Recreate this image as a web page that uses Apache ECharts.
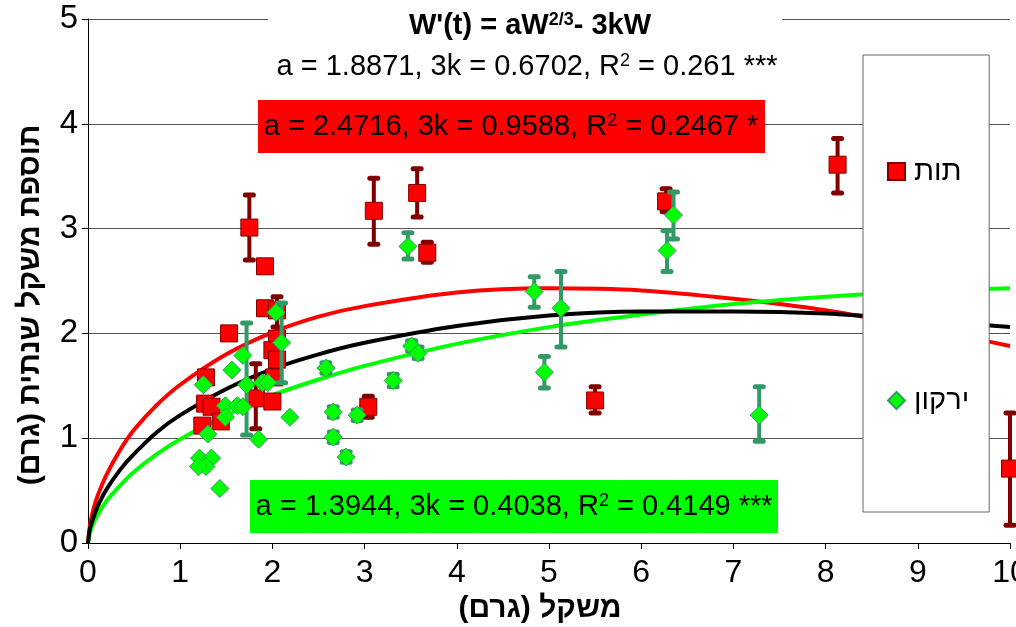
<!DOCTYPE html>
<html><head><meta charset="utf-8">
<script src="https://cdn.jsdelivr.net/npm/echarts@6/dist/echarts.min.js"></script>
<style>html,body{margin:0;padding:0;background:#fff}#c{width:1016px;height:627px}</style>
</head><body><div id="c"></div>
<script>
// ---- data ----
const xTickLabels = ['0','1','2','3','4','5','6','7','8','9','10'];
const yTickLabels = ['0','1','2','3','4','5'];

// תות (red squares)
const redX    = [1.75,1.92,1.53,1.92,2.05,2.05,2.00,2.05,2.02,1.28,1.27,1.34,1.24,1.44,1.82,2.00,3.10,3.57,3.68,3.04,6.27,5.50,8.13,10.0];
const redY    = [3.01,2.64,2.00,2.24,2.22,1.95,1.84,1.75,1.58,1.58,1.33,1.30,1.12,1.16,1.38,1.35,3.17,3.34,2.77,1.30,3.26,1.36,3.61,0.71];
const redLow  = [2.70,null,null,null,2.06,null,null,null,null,null,null,null,null,null,1.09,null,2.85,3.11,2.68,1.20,3.16,1.24,3.34,0.17];
const redHigh = [3.32,null,null,null,2.35,null,null,null,null,null,null,null,null,null,1.71,null,3.48,3.57,2.87,1.40,3.38,1.49,3.86,1.24];

// ירקון (green diamonds)
const greenX    = [1.25,1.56,1.68,1.72,1.89,1.95,2.04,2.10,1.49,1.62,1.68,1.49,1.30,1.85,1.21,1.34,1.28,1.20,1.43,2.19,2.66,2.66,2.58,2.80,2.92,3.31,3.51,3.58,3.47,4.84,5.13,4.95,6.35,6.28,7.28];
const greenY    = [1.51,1.65,1.79,1.51,1.53,1.53,2.20,1.91,1.31,1.31,1.30,1.20,1.04,0.99,0.81,0.81,0.73,0.73,0.52,1.20,1.25,1.01,1.67,0.82,1.22,1.55,1.88,1.81,2.83,2.40,2.24,1.63,3.13,2.79,1.22];
const greenLow  = [null,null,null,1.03,null,null,null,1.53,null,null,null,null,null,null,null,null,null,null,null,null,1.20,0.96,1.62,0.77,1.17,1.49,1.83,1.76,2.71,2.25,1.87,1.48,2.90,2.59,0.97];
const greenHigh = [null,null,null,2.10,null,null,null,2.29,null,null,null,null,null,null,null,null,null,null,null,null,1.30,1.06,1.72,0.87,1.27,1.61,1.93,1.87,2.96,2.54,2.59,1.78,3.35,2.98,1.49];

// fitted curves
const curveX      = [0,0.02,0.05,0.1,0.2,0.35,0.5,0.75,1,1.5,2,2.5,3,4,5,6,7,8,9,10];
const blackCurveY = [0,0.13,0.22,0.34,0.51,0.70,0.85,1.06,1.22,1.47,1.66,1.80,1.91,2.07,2.17,2.21,2.21,2.19,2.13,2.06];
const redCurveY   = [0,0.16,0.29,0.44,0.65,0.89,1.08,1.32,1.51,1.80,2.01,2.16,2.26,2.39,2.43,2.41,2.33,2.22,2.06,1.88];
const greenCurveY = [0,0.09,0.17,0.26,0.40,0.55,0.68,0.85,0.99,1.22,1.41,1.56,1.69,1.90,2.06,2.18,2.28,2.35,2.40,2.43];

const seriesNames = ['תות','ירקון'];
const titleParts = ["W'(t) = aW", '2/3', '- 3kW'];
const fitAll = ['a = 1.8871, 3k = 0.6702, R', '2', ' = 0.261 ***'];
const fitRed = ['a = 2.4716, 3k = 0.9588, R', '2', ' = 0.2467 *'];
const fitGreen = ['a = 1.3944, 3k = 0.4038, R', '2', ' = 0.4149 ***'];
const xName = '\u200Fמשקל (גרם)\u200F';
const yName = '\u200Fתוספת משקל שנתית (גרם)\u200F';

// ---- build ----
const FONT = "'Liberation Sans', Arial, 'DejaVu Sans', sans-serif";
const zip = (xs, ys) => xs.map((x, i) => [x, ys[i]]);
const errData = (xs, lo, hi) => xs.map((x, i) => [x, lo[i], hi[i]]).filter(d => d[1] != null);

function errRender(color) {
  return function (params, api) {
    const x = api.value(0), lo = api.value(1), hi = api.value(2);
    const a = api.coord([x, lo]), b = api.coord([x, hi]);
    const cap = 4;
    const st = { stroke: color, lineWidth: 4, lineCap: 'round' };
    const sc = { stroke: color, lineWidth: 5, lineCap: 'round' };
    return { type: 'group', children: [
      { type: 'line', shape: { x1: a[0], y1: a[1], x2: b[0], y2: b[1] }, style: st },
      { type: 'line', shape: { x1: a[0] - cap, y1: a[1], x2: a[0] + cap, y2: a[1] }, style: sc },
      { type: 'line', shape: { x1: b[0] - cap, y1: b[1], x2: b[0] + cap, y2: b[1] }, style: sc }
    ]};
  };
}

function richLine(parts, size, weight, supSize) {
  return {
    textAlign: 'center', textVerticalAlign: 'middle',
    text: '{n|' + parts[0] + '}{s|' + parts[1] + '}{n|' + parts[2] + '}',
    rich: {
      n: { fontSize: size, fontWeight: weight, fontFamily: FONT, fill: '#000' },
      s: { fontSize: supSize, fontWeight: weight, fontFamily: FONT, fill: '#000', verticalAlign: 'top' }
    }
  };
}

const chart = echarts.init(document.getElementById('c'), null, { renderer: 'canvas' });
const option = {
  animation: false,
  backgroundColor: '#fff',
  grid: { left: 88, top: 19, right: 6, bottom: 84, show: false, containLabel: false, outerBoundsMode: 'none' },
  legend: {
    data: seriesNames,
    orient: 'vertical',
    left: 863, top: 55,
    padding: [102, 20, 97, 24],
    itemGap: 200,
    itemWidth: 17, itemHeight: 17,
    backgroundColor: '#fff', borderColor: '#666', borderWidth: 1,
    zlevel: 1, z: 200,
    textStyle: { fontSize: 29, fontFamily: FONT, color: '#000', padding: [0, 0, 0, 4] }
  },
  xAxis: {
    type: 'value', min: 0, max: 10, interval: 1,
    name: xName, nameLocation: 'middle', nameGap: 51,
    nameTextStyle: { fontSize: 30, fontWeight: 'bold', fontFamily: FONT, color: '#000', padding: [0, 18, 0, 0] },
    axisLine: { lineStyle: { color: '#000', width: 1 } },
    axisTick: { show: true, length: 6, lineStyle: { color: '#000' } },
    axisLabel: { fontSize: 32, color: '#000', margin: 14, fontFamily: "'Liberation Sans Narrow', 'Liberation Sans', Arial, sans-serif",
      formatter: (v) => xTickLabels[Math.round(v)] },
    splitLine: { show: false }
  },
  yAxis: {
    type: 'value', min: 0, max: 5, interval: 1,
    name: yName, nameLocation: 'middle', nameGap: 42, nameRotate: 90,
    nameTextStyle: { fontSize: 30, fontWeight: 'bold', fontFamily: FONT, color: '#000', padding: [0, 48, 0, 0] },
    axisLine: { show: true, lineStyle: { color: '#000', width: 1 } },
    axisTick: { show: true, length: 6, lineStyle: { color: '#000' } },
    axisLabel: { fontSize: 33, color: '#000', margin: 10, fontFamily: FONT,
      formatter: (v) => yTickLabels[Math.round(v)] },
    splitLine: { show: true, lineStyle: { color: '#555', width: 1 } }
  },
  series: [
    { type: 'line', data: zip(curveX, redCurveY), showSymbol: false, smooth: 0.3, lineStyle: { color: '#ff0000', width: 4 }, z: 2, silent: true },
    { type: 'line', data: zip(curveX, greenCurveY), showSymbol: false, smooth: 0.3, lineStyle: { color: '#00ff00', width: 4 }, z: 2, silent: true },
    { type: 'line', data: zip(curveX, blackCurveY), showSymbol: false, smooth: 0.3, lineStyle: { color: '#000000', width: 4 }, z: 2, silent: true },
    { type: 'custom', renderItem: errRender('#800000'), data: errData(redX, redLow, redHigh), z: 3, silent: true },
    { name: seriesNames[0], type: 'scatter', data: zip(redX, redY), symbol: 'rect', symbolSize: 17,
      itemStyle: { color: '#ff0000', borderColor: '#800000', borderWidth: 1, opacity: 1 }, z: 4 },
    { type: 'custom', renderItem: errRender('#339966'), data: errData(greenX, greenLow, greenHigh), z: 5, silent: true },
    { name: seriesNames[1], type: 'scatter', data: zip(greenX, greenY), symbol: 'diamond', symbolSize: 18,
      itemStyle: { color: '#00ff00', borderColor: '#339966', borderWidth: 1, opacity: 1 }, z: 6 }
  ],
  graphic: [
    { type: 'rect', shape: { x: 268, y: 10, width: 514, height: 20 }, style: { fill: '#fff' }, z: 50 },
    { type: 'text', x: 530, y: 26, z: 60, style: richLine(titleParts, 29, 'bold', 18) },
    { type: 'text', x: 527, y: 67, z: 60, style: richLine(fitAll, 29, 'normal', 18) },
    { type: 'rect', shape: { x: 258, y: 100, width: 507, height: 53 }, style: { fill: '#ff0000' }, z: 50 },
    { type: 'text', x: 511, y: 127, z: 60, style: richLine(fitRed, 29, 'normal', 18) },
    { type: 'rect', shape: { x: 250, y: 480, width: 528, height: 53 }, style: { fill: '#00ff00' }, z: 50 },
    { type: 'text', x: 514, y: 507, z: 60, style: richLine(fitGreen, 29, 'normal', 18) }
  ]
};
chart.setOption(option);
</script>
</body></html>
